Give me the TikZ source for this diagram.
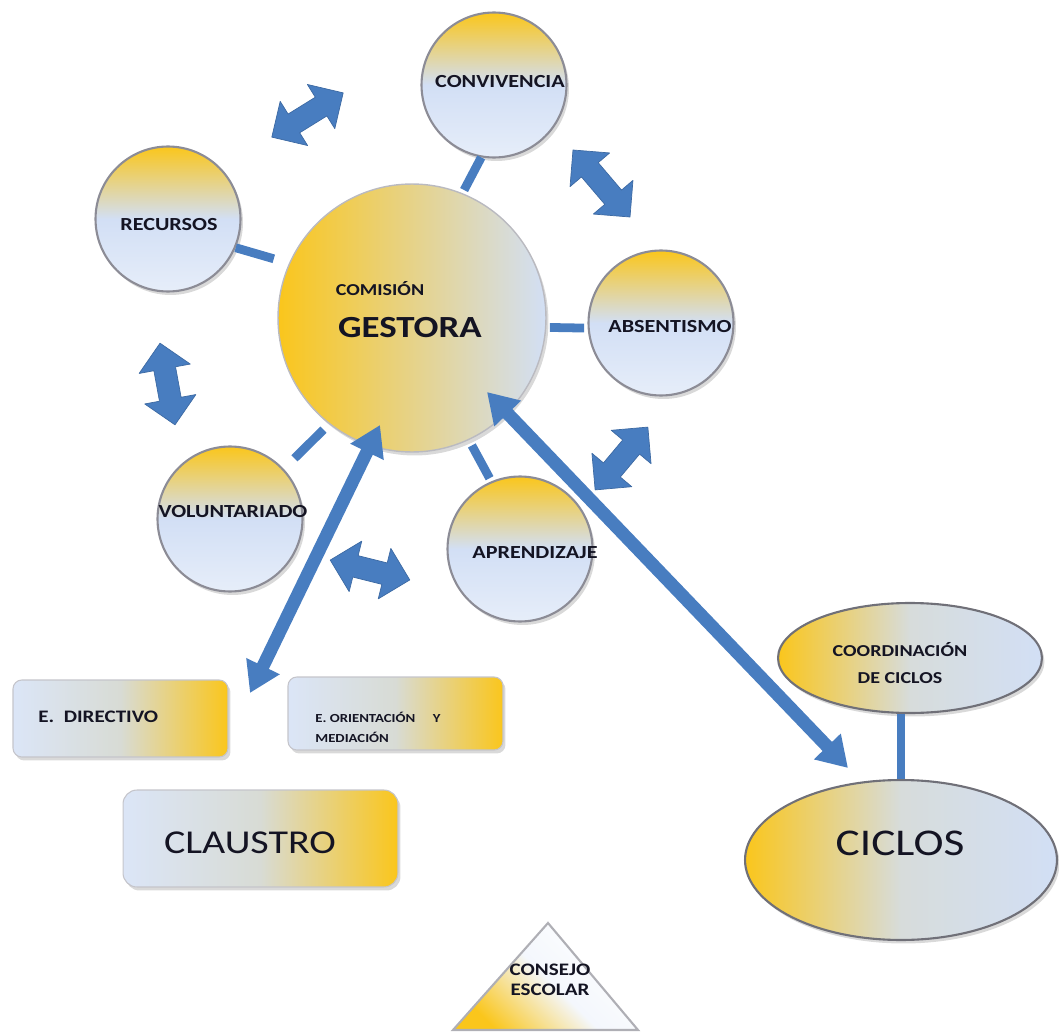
\documentclass[tikz,border=0pt]{standalone}
\usepackage{fontspec}
\setmainfont{Carlito}[FakeStretch=1.2]
\usetikzlibrary{arrows.meta,calc,shadows,shapes.geometric}
\definecolor{ylw}{RGB}{250,198,28}
\definecolor{lb}{RGB}{210,223,245}
\definecolor{blu}{RGB}{72,125,192}
\definecolor{rim}{RGB}{140,140,150}
\definecolor{ink}{RGB}{20,20,35}
\newcommand\fatdbl[3]{%
  \begin{scope}[shift={#1},rotate=#2]
    \filldraw[fill=blu,draw=blu!85!black,line width=0.4pt,line join=round]
      (-#3,0) -- ({-#3+26},-26) -- ({-#3+26},-11) -- ({#3-26},-11) -- ({#3-26},-26) -- (#3,0)
      -- ({#3-26},26) -- ({#3-26},11) -- ({-#3+26},11) -- ({-#3+26},26) -- cycle;
  \end{scope}}
\begin{document}
\begin{tikzpicture}[x=0.02cm,y=-0.02cm,
  shd/.style={drop shadow={opacity=0.3,shadow xshift=0.5mm,shadow yshift=-0.7mm}},
  ball/.style={circle,inner sep=0pt,minimum size=2.9cm,draw=rim,line width=1.2pt,top color=ylw,bottom color=lb!55!white,middle color=lb,shd},
  hub/.style={circle,inner sep=0pt,minimum size=5.36cm,draw=rim!60,line width=0.8pt,left color=ylw,right color=lb,middle color=ylw!50!lb,shd},
  panel/.style={rectangle,rounded corners=5pt,inner sep=0pt,draw=rim!50,line width=0.6pt,left color=lb!80!white,right color=ylw,middle color=lb!85!ylw,shd},
  oval/.style={ellipse,inner sep=0pt,draw=rim!80!black,line width=1.2pt,left color=ylw,right color=lb,middle color=lb!88!ylw,shd},
  link/.style={draw=blu,line width=5pt},
  bigarrow/.style={draw=blu,line width=7.4pt,{Triangle[width=20pt,length=17pt]}-{Triangle[width=20pt,length=17pt]}},
  lbl/.style={inner sep=0pt,text=ink,font=\bfseries\fontsize{10.5}{12}\selectfont},
]
\useasboundingbox (0,0) rectangle (1059,1034);

% circles
\node[hub] (G) at (412,318) {};
\node[ball] (CONV) at (494,85) {};
\node[ball] (REC) at (168,219) {};
\node[ball] (ABS) at (661,323) {};
\node[ball] (VOL) at (230,519) {};
\node[ball] (APR) at (520,549) {};

% boxes
\node[panel,minimum width=4.3cm,minimum height=1.54cm] (DIR) at (120.5,718.5) {};
\node[panel,minimum width=4.3cm,minimum height=1.46cm] (ORI) at (395.5,713.5) {};
\node[panel,minimum width=5.5cm,minimum height=1.94cm,rounded corners=8pt] (CLA) at (260.5,838.5) {};

% ellipses
\node[oval,minimum width=5.28cm,minimum height=2.2cm] (COO) at (910,658) {};
\node[oval,minimum width=6.24cm,minimum height=3.2cm] (CIC) at (901,860) {};

% triangle
\draw[draw=rim!70,line width=1.2pt,top color=white,bottom color=ylw,middle color=lb!25!white,shading angle=-45]
  (548,923) -- (638,1030) -- (453,1030) -- cycle;

% links
\draw[link,shorten >=2pt] (CONV.260) -- (G.68);
\draw[link,shorten >=9pt] (REC.-23) -- (G.156);
\draw[link,shorten <=2pt,shorten >=2pt] (G.-4) -- (ABS.184);
\draw[link,shorten <=8.5pt,shorten >=4.5pt] (VOL.43) -- (G.232);
\draw[link,shorten <=3.5pt,shorten >=2pt] (G.-65) -- (APR.113);
\draw[link] (COO.south -| CIC.north) -- (CIC.north);

% long arrows
\coordinate (pDir) at (250,693);
\coordinate (pCic) at (848,768);
\coordinate (gL) at ($(G)+(-32,107)$);
\coordinate (gR) at ($(G)+(75,74)$);
\draw[bigarrow] (pDir) -- (gL);
\draw[bigarrow] (gR) -- (pCic);

% fat double arrows
\fatdbl{(307.5,115)}{31.8}{42}
\fatdbl{(601.5,183.5)}{-49.6}{44}
\fatdbl{(167.5,384)}{-79.6}{41.5}
\fatdbl{(370,570)}{-14}{41}
\fatdbl{(621.5,458.5)}{50}{41}

% texts
\node[lbl] (tConv) at (500,82) {CONVIVENCIA};
\node[lbl] (tRec) at (169,225) {RECURSOS};
\node[lbl] (tAbs) at (670,327) {ABSENTISMO};
\node[lbl] (tVol) at (233,512) {VOLUNTARIADO};
\node[lbl] (tApr) at (535,553) {APRENDIZAJE};
\node[lbl,font=\bfseries\fontsize{9.5}{11}\selectfont] (tCom) at (380,289) {COMISIÓN};
\node[lbl,font=\bfseries\fontsize{17.5}{20}\selectfont] (tGes) at (410,328) {GESTORA};
\node[lbl,anchor=west,font=\bfseries\fontsize{10}{12}\selectfont] (tDir) at (38,717) {E.\ \ DIRECTIVO};
\node[lbl,anchor=west,align=left,font=\bfseries\fontsize{7}{11.3}\selectfont] (tOri) at (315,727) {E. ORIENTACIÓN\hspace{10pt}Y\\MEDIACIÓN};
\node[lbl,font=\fontsize{19}{22}\selectfont] (tCla) at (250,843) {CLAUSTRO};
\node[lbl,align=center,font=\bfseries\fontsize{9.5}{15.3}\selectfont] (tCoo) at (900,663) {COORDINACIÓN\\DE CICLOS};
\node[lbl,font=\fontsize{21.5}{24}\selectfont] (tCic) at (900,843) {CICLOS};
\node[lbl,align=center,font=\bfseries\fontsize{10}{11.3}\selectfont] (tCon) at (550,980) {CONSEJO\\ESCOLAR};
\end{tikzpicture}
\end{document}
